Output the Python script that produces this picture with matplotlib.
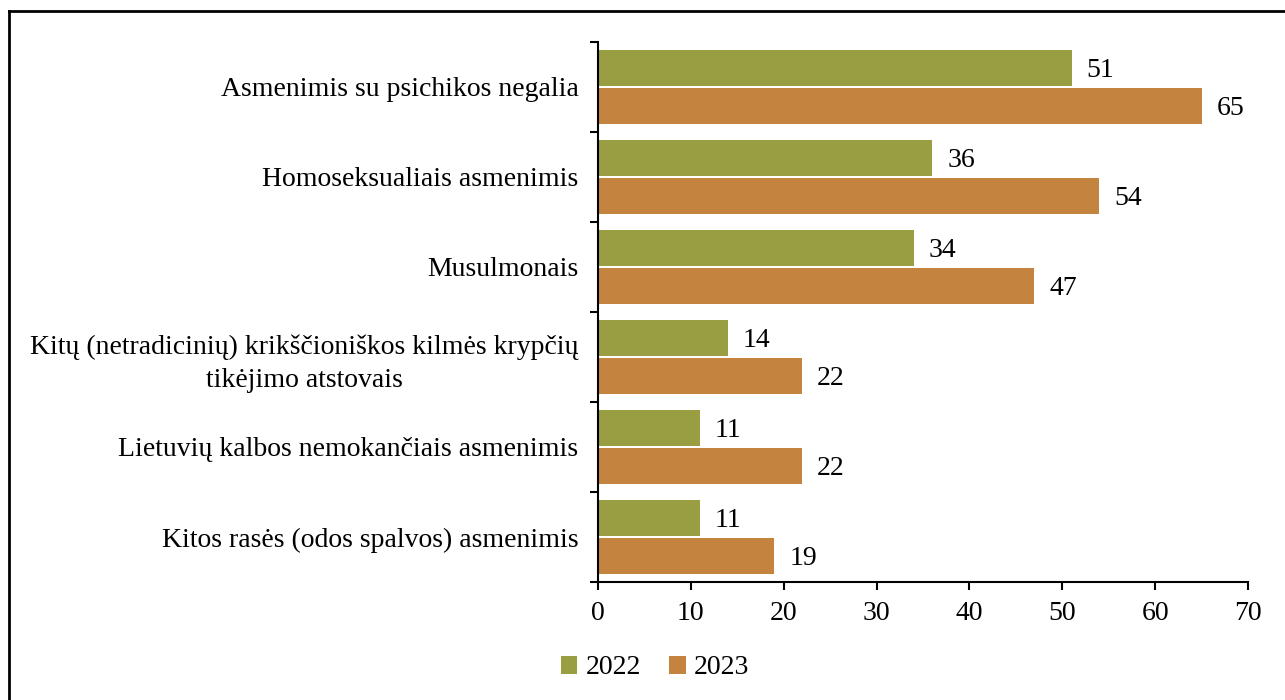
import matplotlib
matplotlib.use("Agg")
import matplotlib.pyplot as plt
from matplotlib.lines import Line2D
import numpy as np

categories = [
    "Asmenimis su psichikos negalia",
    "Homoseksualiais asmenimis",
    "Musulmonais",
    "Kitų (netradicinių) krikščioniškos kilmės krypčių\ntikėjimo atstovais",
    "Lietuvių kalbos nemokančiais asmenimis",
    "Kitos rasės (odos spalvos) asmenimis",
]
values_2022 = [51, 36, 34, 14, 11, 11]
values_2023 = [65, 54, 47, 22, 22, 19]
series_labels = ["2022", "2023"]
x_ticks = [0, 10, 20, 30, 40, 50, 60, 70]

plt.rcParams['font.family'] = ['Liberation Serif', 'DejaVu Serif']
FS = 20

W, H = 1285, 700
fig = plt.figure(figsize=(W / 100, H / 100), dpi=100)
ax = fig.add_axes([598 / W, 1 - 582 / H, (1248 - 598) / W, (582 - 42) / H])

col22 = "#9a9e42"
col23 = "#c4843f"

n = len(categories)
y = np.arange(n)
h = 0.4
off = 0.21
b1 = ax.barh(y - off, values_2022, height=h, color=col22, label=series_labels[0])
b2 = ax.barh(y + off, values_2023, height=h, color=col23, label=series_labels[1])
for bars, vals in ((b1, values_2022), (b2, values_2023)):
    for rect, v in zip(bars, vals):
        ax.text(v + 1.6, rect.get_y() + rect.get_height() / 2 + 0.03, str(v),
                va="center", ha="left", fontsize=FS)

ax.set_ylim(n - 0.5, -0.5)
ax.set_xlim(0, 70)
ax.set_xticks(x_ticks)
ax.set_xticklabels([str(t) for t in x_ticks], fontsize=FS)
ax.set_yticks(y)
ax.set_yticklabels(categories, fontsize=FS, linespacing=1.4)
ax.tick_params(axis="y", length=0, pad=14)
ax.set_yticks(np.arange(n + 1) - 0.5, minor=True)
ax.tick_params(axis="y", which="minor", length=6, width=1.5, direction="out")
ax.tick_params(axis="x", length=6, width=1.5, direction="out", pad=8)
for lbl in ax.get_yticklabels():
    lbl.set_multialignment("center")
ax.spines["top"].set_visible(False)
ax.spines["right"].set_visible(False)
ax.spines["left"].set_linewidth(1.5)
ax.spines["bottom"].set_linewidth(1.5)

ax.legend(handles=[b1, b2], loc="center", bbox_to_anchor=(655 / W, 1 - 668 / H),
          bbox_transform=fig.transFigure, ncol=2, frameon=False, fontsize=FS,
          handlelength=0.6, handleheight=0.6, handletextpad=0.3, columnspacing=1.0)

# figure border (top and left visible)
fig.add_artist(Line2D([9 / W, 1.0], [1 - 11 / H, 1 - 11 / H], transform=fig.transFigure,
                      color="black", linewidth=2))
fig.add_artist(Line2D([9 / W, 9 / W], [1 - 11 / H, 0.0], transform=fig.transFigure,
                      color="black", linewidth=2))

fig.savefig("out.png", dpi=100)
